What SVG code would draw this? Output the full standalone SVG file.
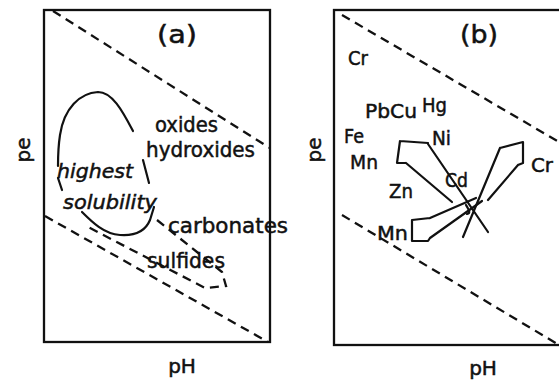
<svg xmlns="http://www.w3.org/2000/svg" width="559" height="384" viewBox="0 0 559 384">
<style>
.frame{fill:none;stroke:#111;stroke-width:2.3}
.dash{fill:none;stroke:#111;stroke-width:2.3;stroke-dasharray:9 6}
.ln{fill:none;stroke:#111;stroke-width:2.2;stroke-linecap:round;stroke-linejoin:round}
text{font-family:"DejaVu Sans","Liberation Sans",sans-serif;fill:#111;stroke:#111;stroke-width:0.5;font-size:20px}
.big{font-size:25px}
.ax{font-size:20px}
.it{font-style:italic;font-size:20px}
.lb{font-size:21px}
</style>
<rect width="559" height="384" fill="#fff"/>
<g id="panel-a">
  <rect class="frame" x="44" y="10" width="226" height="332"/>
  <path class="dash" d="M53,11 L265,145 L270,148"/>
  <path class="dash" d="M45,216 L268,342"/>
  <text class="big" x="177" y="43" text-anchor="middle" textLength="40" lengthAdjust="spacingAndGlyphs">(a)</text>
  <text class="ax" transform="translate(30,150) rotate(-90)" text-anchor="middle">pe</text>
  <text class="ax" x="182" y="373" text-anchor="middle">pH</text>
  <path class="ln" d="M133,131 C122,110 112,92 98,92 C80,93 64,108 60,135 C58,148 58,158 58,166"/>
  <path class="ln" d="M58,178 L62,190"/>
  <path class="ln" d="M143,160 L149,183"/>
  <path class="ln" d="M82,212 C92,222 104,234 120,235 C134,236 145,232 150,220 L154,207"/>
  <path class="dash" d="M157,220 L222,272 L226,286 L205,288 L88,227" stroke-dasharray="7 6"/>
  <text class="lb" x="155" y="132" textLength="63" lengthAdjust="spacingAndGlyphs">oxides</text>
  <text class="lb" x="146" y="157" textLength="109" lengthAdjust="spacingAndGlyphs">hydroxides</text>
  <text class="it" x="57" y="178" textLength="76" lengthAdjust="spacingAndGlyphs">highest</text>
  <text class="it" x="63" y="209" textLength="94" lengthAdjust="spacingAndGlyphs">solubility</text>
  <text class="lb" x="168" y="233" textLength="120" lengthAdjust="spacingAndGlyphs">carbonates</text>
  <text class="lb" x="147" y="268" textLength="78" lengthAdjust="spacingAndGlyphs">sulfides</text>
</g>
<g id="panel-b">
  <rect class="frame" x="334" y="10" width="232" height="335"/>
  <path class="dash" d="M342,15 L559,142"/>
  <path class="dash" d="M342,215 L559,345"/>
  <text class="big" x="479" y="43" text-anchor="middle" textLength="38" lengthAdjust="spacingAndGlyphs">(b)</text>
  <text class="ax" transform="translate(321,150) rotate(-90)" text-anchor="middle">pe</text>
  <text class="ax" x="483" y="375" text-anchor="middle">pH</text>
  <text x="348" y="65" textLength="20" lengthAdjust="spacingAndGlyphs">Cr</text>
  <text x="365" y="118" textLength="52" lengthAdjust="spacingAndGlyphs">PbCu</text>
  <text x="422" y="112" textLength="25" lengthAdjust="spacingAndGlyphs">Hg</text>
  <text x="344" y="143" textLength="20" lengthAdjust="spacingAndGlyphs">Fe</text>
  <text x="432" y="145" textLength="19" lengthAdjust="spacingAndGlyphs">Ni</text>
  <text x="350" y="169" textLength="28" lengthAdjust="spacingAndGlyphs">Mn</text>
  <text x="445" y="187" textLength="23" lengthAdjust="spacingAndGlyphs">Cd</text>
  <text x="389" y="198" textLength="24" lengthAdjust="spacingAndGlyphs">Zn</text>
  <text x="377" y="240" textLength="31" lengthAdjust="spacingAndGlyphs">Mn</text>
  <text x="531" y="172" textLength="22" lengthAdjust="spacingAndGlyphs">Cr</text>
</g>
<g id="arrows">
  <path class="ln" d="M406,163 L452,202 M428,144 L488,232 M400,141 L428,143 M400,141 L397,163 L406,163"/>
  <path class="ln" d="M430,218 L476,198 M430,238 L482,201 M430,218 L412,220 L412,241 L428,241 L430,238"/>
  <path class="ln" d="M500,148 L463,237 M518,165 L488,200 M500,148 L523,142 L523,163 L518,165"/>
  <path class="ln" d="M466,205 C469,210 471,213 467,214" stroke-width="1.4"/>
</g>
</svg>
